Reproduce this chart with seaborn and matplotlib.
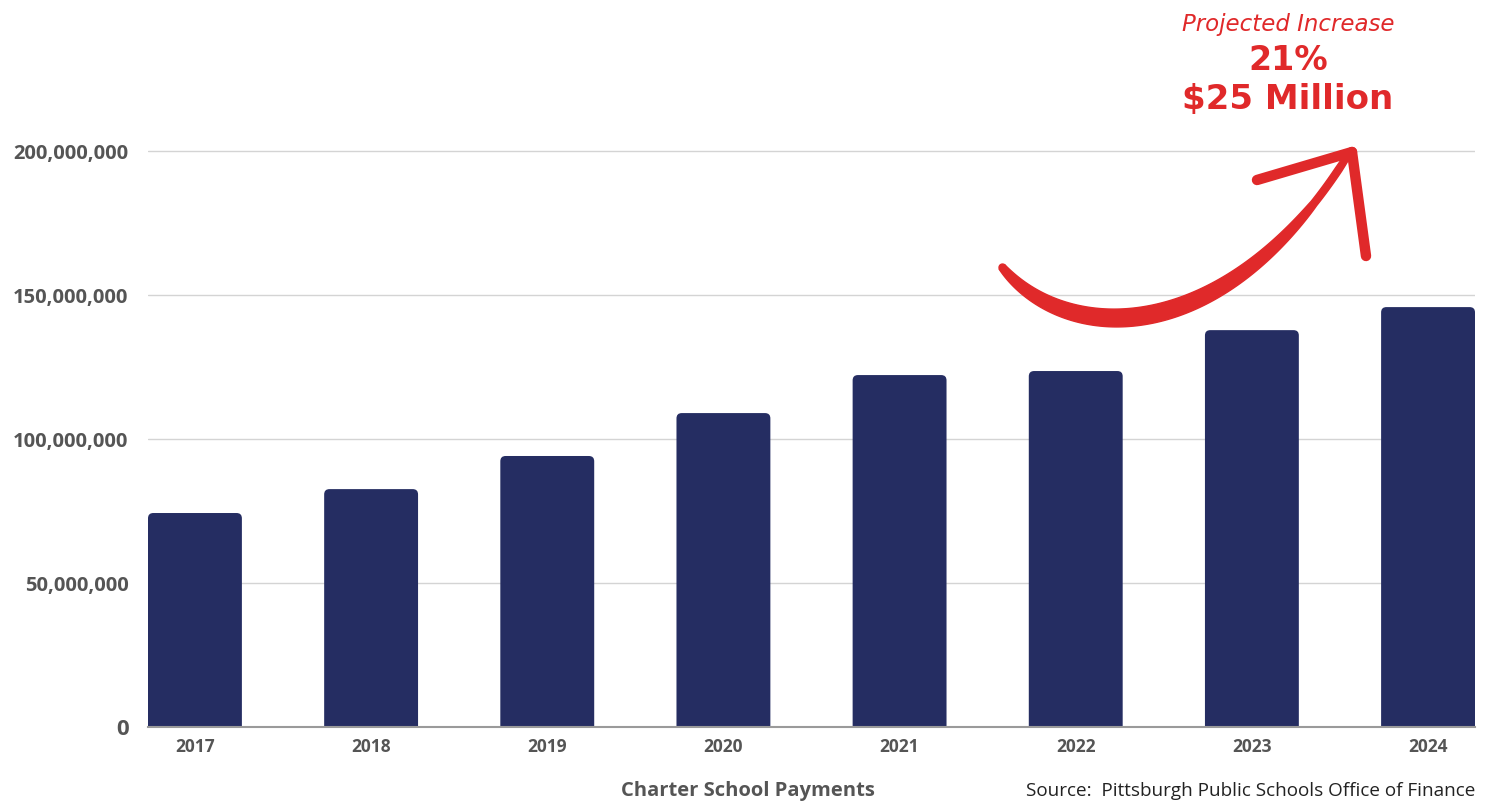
import numpy as np
import pandas as pd
import seaborn as sns
import matplotlib
matplotlib.use('Agg')
import matplotlib.pyplot as plt
from matplotlib.patches import Polygon, FancyBboxPatch
from matplotlib.lines import Line2D

# Data
years = ['2017', '2018', '2019', '2020', '2021', '2022', '2023', '2024']
payments = [74.3e6, 82.6e6, 94.1e6, 109.0e6, 122.2e6, 123.6e6, 137.8e6, 145.8e6]
y_ticks = [0, 50e6, 100e6, 150e6, 200e6]
y_tick_labels = ['0', '50,000,000', '100,000,000', '150,000,000', '200,000,000']

NAVY = '#252d62'
RED = '#e0292a'
GREY = '#555555'

W, H = 1488, 802
sns.set_theme(style='white')
plt.rcParams['font.family'] = ['Open Sans', 'DejaVu Sans']

df = pd.DataFrame({'year': years, 'payments': payments})

fig = plt.figure(figsize=(W / 100, H / 100), dpi=100)
# axes placed in pixel terms: left 148, right 1475, y=0 at 727
ymax = 210e6
top_px = 727 - 576 * ymax / 200e6
ax = fig.add_axes([148 / W, (H - 727) / H, (1475 - 148) / W, (727 - top_px) / H])

sns.barplot(data=df, x='year', y='payments', color=NAVY, width=0.533,
            saturation=1, ax=ax, zorder=3)

ax.set_xlim(-0.2665, 7.2665)
ax.set_ylim(0, ymax)

# swap plain bars for bars with slightly rounded corners
r_x = 0.03
px_per_x = (1475 - 148) / 7.533
px_per_y = 576 / 200e6
aspect = (r_x * px_per_x / px_per_y) / r_x
for p in list(ax.patches):
    x0, w, h = p.get_x(), p.get_width(), p.get_height()
    p.remove()
    ext = r_x * aspect
    fb = FancyBboxPatch((x0, -ext), w, h + ext,
                        boxstyle=f'round,pad=0,rounding_size={r_x}',
                        mutation_aspect=aspect, facecolor=NAVY, edgecolor='none',
                        zorder=3, clip_on=True)
    ax.add_patch(fb)

ax.set_yticks(y_ticks)
ax.set_yticklabels(y_tick_labels)
ax.yaxis.grid(True, color='#d4d4d4', linewidth=1, zorder=0)
ax.xaxis.grid(False)
for s in ['top', 'right', 'left']:
    ax.spines[s].set_visible(False)
ax.spines['bottom'].set_color('#9a9a9a')
ax.spines['bottom'].set_linewidth(1.5)
ax.spines['bottom'].set_zorder(4)
ax.tick_params(axis='y', length=0, pad=14, labelsize=14.5, labelcolor=GREY)
ax.tick_params(axis='x', length=0, pad=8, labelsize=12.5, labelcolor=GREY)
for lbl in ax.get_yticklabels() + ax.get_xticklabels():
    lbl.set_fontweight('bold')
ax.get_yticklabels()[0].set_fontsize(16)
ax.set_xlabel('')
ax.set_ylabel('')

# footer texts
fig.text(748 / W, 1 - 791 / H, 'Charter School Payments', ha='center', va='center',
         fontsize=14.5, fontweight='bold', color=GREY)
fig.text(1475 / W, 1 - 791 / H, 'Source:  Pittsburgh Public Schools Office of Finance',
         ha='right', va='center', fontsize=13.6, color='#222222')

# annotation text
fig.text(1288 / W, 1 - 25 / H, 'Projected Increase', ha='center', va='center',
         fontsize=16.5, style='italic', color=RED, family='DejaVu Sans')
fig.text(1288 / W, 1 - 61 / H, '21%', ha='center', va='center',
         fontsize=24, fontweight='bold', color=RED, family='DejaVu Sans')
fig.text(1288 / W, 1 - 99 / H, '$25 Million', ha='center', va='center',
         fontsize=24.5, fontweight='bold', color=RED, family='DejaVu Sans')

# curved tapered arrow (pixel coords, top-left origin)
P = np.array([[1002, 267], [1065, 345], [1225, 352], [1348, 155]], dtype=float)
t = np.linspace(0, 1, 200)[:, None]
curve = ((1 - t) ** 3 * P[0] + 3 * t * (1 - t) ** 2 * P[1]
         + 3 * t ** 2 * (1 - t) * P[2] + t ** 3 * P[3])
d = np.gradient(curve, axis=0)
d /= np.linalg.norm(d, axis=1, keepdims=True)
nrm = np.column_stack([-d[:, 1], d[:, 0]])
tt = t[:, 0]
width = 7 + 11 * np.sin(np.pi * np.clip(tt * 1.1, 0, 1)) ** 0.8
width = np.where(tt > 0.85, np.minimum(width, 6 + 40 * (1 - tt)), width)
left = curve + nrm * width[:, None] / 2
right = curve - nrm * width[:, None] / 2
poly_px = np.vstack([left, right[::-1]])
poly = np.column_stack([poly_px[:, 0] / W, 1 - poly_px[:, 1] / H])
fig.patches.append(Polygon(poly, closed=True, transform=fig.transFigure,
                           facecolor=RED, edgecolor=RED, linewidth=1))

tip = (1352, 152)
for end in [(1257, 180), (1366, 256)]:
    fig.lines.append(Line2D([tip[0] / W, end[0] / W], [1 - tip[1] / H, 1 - end[1] / H],
                            transform=fig.transFigure, color=RED, linewidth=7.5,
                            solid_capstyle='round'))
fig.lines.append(Line2D([curve[0][0] / W], [1 - curve[0][1] / H], transform=fig.transFigure,
                        marker='o', markersize=5, color=RED, linestyle='none'))

fig.savefig('out.png', dpi=100)
